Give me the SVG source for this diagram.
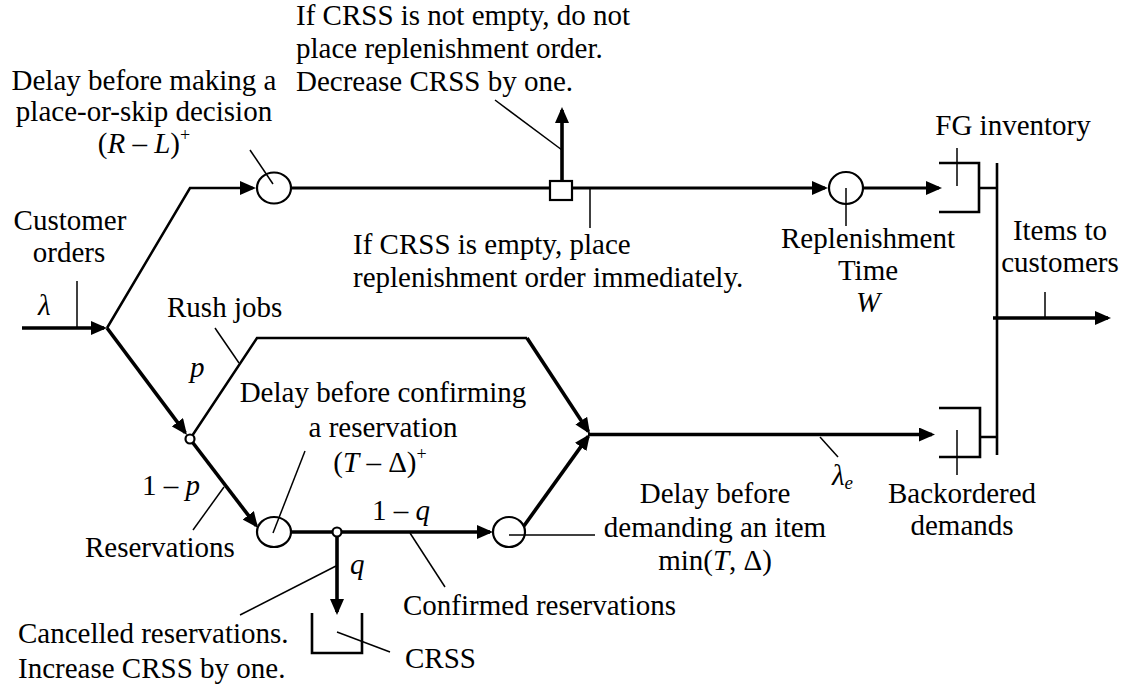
<svg xmlns="http://www.w3.org/2000/svg" width="1126" height="687" viewBox="0 0 1126 687">
<style>
text{font-family:'Liberation Serif','DejaVu Serif',serif;font-size:29px;fill:#000}
.c{text-anchor:middle}
.i{font-style:italic}
.sup{font-size:18px}
.sub{font-size:19px;font-style:italic}
.f{fill:none;stroke:#000;stroke-linejoin:miter}
.w1{stroke-width:2.5}
.w2{stroke-width:3}
.w3{stroke-width:3.6}
.ld{fill:none;stroke:#000;stroke-width:1.5}
.nd{fill:#fff;stroke:#000;stroke-width:2.2}
.br{fill:none;stroke:#000;stroke-width:2.6}
</style>
<defs>
<marker id="arr" viewBox="0 0 16 14" refX="13" refY="7" markerWidth="16" markerHeight="14" markerUnits="userSpaceOnUse" orient="auto"><path d="M0,0 L16,7 L0,14 z" fill="#000"/></marker>
</defs>
<rect width="1126" height="687" fill="#fff"/>
<g id="connectors">
<path class="f w3" d="M22,328 L104,328" marker-end="url(#arr)"/>
<path class="f w1" d="M107,328 L190,188 L253,188" marker-end="url(#arr)"/>
<path class="f w2" d="M290,188 L550,188"/>
<path class="f w3" d="M562,181 L562,110" marker-end="url(#arr)"/>
<path class="f w2" d="M572,188 L825,188" marker-end="url(#arr)"/>
<path class="f w2" d="M863,188 L939,188" marker-end="url(#arr)"/>
<path class="f w3" d="M107,328 L185.2,432.6" marker-end="url(#arr)"/>
<path class="f w1" d="M190,439 L257,338 L527,338"/>
<path class="f w3" d="M527,338 L588.4,431.5" marker-end="url(#arr)"/>
<path class="f w3" d="M190,439 L256.2,525.6" marker-end="url(#arr)"/>
<path class="f w3" d="M290,532 L490,532" marker-end="url(#arr)"/>
<path class="f w3" d="M337,532 L337,612" marker-end="url(#arr)"/>
<path class="f w3" d="M521,530 L588.3,436.4" marker-end="url(#arr)"/>
<path class="f w3" d="M588,434.5 L932,434.5" marker-end="url(#arr)"/>
<path class="f w3" d="M993,318 L1108,318" marker-end="url(#arr)"/>
<path class="br" d="M979,188 L997,188 M980,437 L997,437 M997,163 L997,455"/>
</g>
<g id="delay-place-or-skip"><ellipse class="nd" cx="274" cy="188" rx="17" ry="15.5"/></g>
<g id="decision-square"><rect class="nd" x="550" y="181" width="22" height="19"/></g>
<g id="replenishment-delay"><ellipse class="nd" cx="846" cy="188" rx="17" ry="16"/></g>
<g id="fg-inventory"><path class="br" d="M939,163 L979,163 L979,212 L939,212"/><path class="ld" d="M957,148 L957,186"/></g>
<g id="backordered-demands"><path class="br" d="M939,408 L980,408 L980,457 L939,457"/><path class="ld" d="M957,430 L957,475"/></g>
<g id="split-rush"><circle class="nd" cx="190" cy="439" r="4.5"/></g>
<g id="confirm-delay"><ellipse class="nd" cx="274" cy="532" rx="17" ry="15"/></g>
<g id="split-cancel"><circle class="nd" cx="337" cy="532" r="4.5"/></g>
<g id="demand-delay"><ellipse class="nd" cx="509" cy="532" rx="16" ry="15"/></g>
<g id="crss"><path class="br" d="M312,613 L312,653 L362,653 L362,613"/></g>
<g id="leaders">
<path class="ld" d="M273,184 L250,150"/>
<path class="ld" d="M562,150 L495,100"/>
<path class="ld" d="M590,188 L590,228"/>
<path class="ld" d="M846,188 L846,226"/>
<path class="ld" d="M77,281 L77,328"/>
<path class="ld" d="M1045,292 L1045,318"/>
<path class="ld" d="M215,328 L239,363"/>
<path class="ld" d="M193,530 L224,487"/>
<path class="ld" d="M273,533 L305,451"/>
<path class="ld" d="M410,533 L445,587"/>
<path class="ld" d="M509,535 L595,535"/>
<path class="ld" d="M820,437 L838,457"/>
<path class="ld" d="M336,566 L240,615"/>
<path class="ld" d="M337,632 L390,652"/>
</g>
<g id="labels" font-family="Liberation Serif, serif">
<text class="c" x="144" y="90">Delay before making a</text>
<text class="c" x="144" y="121">place-or-skip decision</text>
<text class="c" x="144" y="153">(<tspan class="i">R</tspan> – <tspan class="i">L</tspan>)<tspan class="sup" dy="-12">+</tspan></text>
<text x="296" y="25">If CRSS is not empty, do not</text>
<text x="296" y="58">place replenishment order.</text>
<text x="296" y="91">Decrease CRSS by one.</text>
<text class="c" x="1013" y="135">FG inventory</text>
<text class="c" x="70" y="230">Customer</text>
<text class="c" x="69" y="262">orders</text>
<text x="353" y="254">If CRSS is empty, place</text>
<text x="353" y="287">replenishment order immediately.</text>
<text class="c" x="868" y="248">Replenishment</text>
<text class="c" x="868" y="280">Time</text>
<text class="c i" x="868" y="312">W</text>
<text class="c" x="1060" y="240">Items to</text>
<text class="c" x="1060" y="272">customers</text>
<text class="i" x="38" y="315">λ</text>
<text x="167" y="317">Rush jobs</text>
<text class="i" x="190" y="377">p</text>
<text class="c" x="383" y="402">Delay before confirming</text>
<text class="c" x="383" y="437">a reservation</text>
<text class="c" x="380" y="472">(<tspan class="i">T</tspan> – Δ)<tspan class="sup" dy="-12">+</tspan></text>
<text x="142" y="495">1 – <tspan class="i">p</tspan></text>
<text x="85" y="557">Reservations</text>
<text x="372" y="520">1 – <tspan class="i">q</tspan></text>
<text class="i" x="350" y="574">q</text>
<text class="c" x="715" y="503">Delay before</text>
<text class="c" x="715" y="537">demanding an item</text>
<text class="c" x="715" y="570">min(<tspan class="i">T</tspan>, Δ)</text>
<text class="i" x="832" y="485">λ<tspan class="sub" dy="4">e</tspan></text>
<text class="c" x="962" y="503">Backordered</text>
<text class="c" x="962" y="535">demands</text>
<text x="403" y="615">Confirmed reservations</text>
<text x="18" y="643">Cancelled reservations.</text>
<text x="18" y="678">Increase CRSS by one.</text>
<text x="405" y="668">CRSS</text>
</g>
</svg>
